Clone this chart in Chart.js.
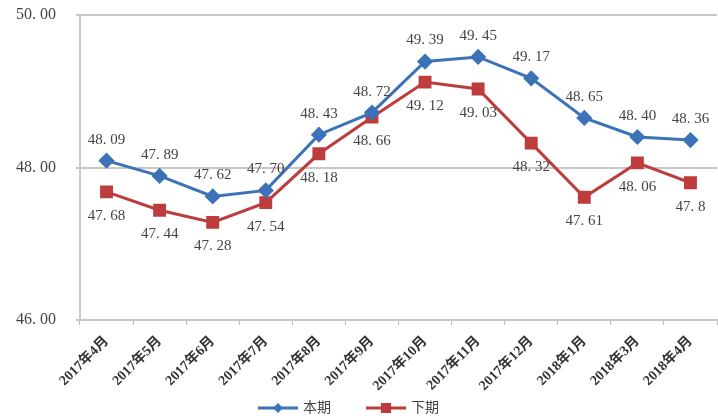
<!DOCTYPE html>
<html>
<head>
<meta charset="utf-8">
<script src="https://cdn.jsdelivr.net/npm/chart.js@4"></script>
<style>
  html, body { margin: 0; padding: 0; background: #fff; overflow: hidden; }
  #wrap { width: 718px; height: 418px; position: relative; overflow: hidden; }
</style>
</head>
<body>
<div id="wrap"><canvas id="myChart" width="727" height="418"></canvas></div>
<script>
// datos del grafico
var meses = ['2017年4月', '2017年5月', '2017年6月', '2017年7月', '2017年8月', '2017年9月',
  '2017年10月', '2017年11月', '2017年12月', '2018年1月', '2018年3月', '2018年4月']
var benqi = [48.09, 47.89, 47.62, 47.70, 48.43, 48.72, 49.39, 49.45, 49.17, 48.65, 48.40, 48.36]
var xiaqi = [47.68, 47.44, 47.28, 47.54, 48.18, 48.66, 49.12, 49.03, 48.32, 47.61, 48.06, 47.8]
var yTicks = [46, 48, 50]

var azul = '#3b72b8'
var rojo = '#bd3d3d'
var serif = "'Liberation Serif', 'Noto Sans CJK SC', serif"

// etiquetas de valores (arriba para azul, abajo para rojo)
var etiquetas = {
    id: 'etiquetas',
    afterDatasetsDraw: function (chart) {
        var ctx = chart.ctx
        ctx.save()
        ctx.font = '15px ' + serif
        ctx.fillStyle = '#444'
        ctx.textAlign = 'center'
        ctx.textBaseline = 'middle'
        chart.data.datasets.forEach(function (ds, i) {
            var meta = chart.getDatasetMeta(i)
            meta.data.forEach(function (pt, j) {
                var v = ds.data[j]
                var txt = (i == 0 ? v.toFixed(2) : String(v)).replace('.', '. ')
                var dy = i == 0 ? -21 : 24
                ctx.fillText(txt, pt.x, pt.y + dy)
            })
        })
        ctx.restore()
    }
}

// leyenda tipo excel: linea con marcador
var leyenda = {
    id: 'leyenda',
    afterDraw: function (chart) {
        var ctx = chart.ctx
        var items = [
            { x: 258, color: azul, label: '本期', shape: 'rombo' },
            { x: 366, color: rojo, label: '下期', shape: 'cuadro' }
        ]
        var y = 408
        ctx.save()
        items.forEach(function (it) {
            ctx.strokeStyle = it.color
            ctx.lineWidth = 3
            ctx.beginPath()
            ctx.moveTo(it.x, y)
            ctx.lineTo(it.x + 40, y)
            ctx.stroke()
            ctx.fillStyle = it.color
            var cx = it.x + 20
            if (it.shape == 'rombo') {
                ctx.beginPath()
                ctx.moveTo(cx, y - 5)
                ctx.lineTo(cx + 5, y)
                ctx.lineTo(cx, y + 5)
                ctx.lineTo(cx - 5, y)
                ctx.closePath()
                ctx.fill()
            } else {
                ctx.fillRect(cx - 5, y - 5, 10, 10)
            }
            ctx.fillStyle = '#444'
            ctx.font = '14px ' + serif
            ctx.textAlign = 'left'
            ctx.textBaseline = 'middle'
            ctx.fillText(it.label, it.x + 45, y)
        })
        ctx.restore()
    }
}

var ctx = document.getElementById('myChart').getContext('2d')
var chart = new Chart(ctx, {
    type: 'line',
    data: {
        labels: meses,
        datasets: [{
            label: '本期',
            data: benqi,
            borderColor: azul,
            backgroundColor: azul,
            borderWidth: 3,
            pointStyle: 'rectRot',
            pointRadius: 6,
            pointHoverRadius: 6,
            tension: 0
        }, {
            label: '下期',
            data: xiaqi,
            borderColor: rojo,
            backgroundColor: rojo,
            borderWidth: 3,
            pointStyle: 'rect',
            pointRadius: 7,
            pointHoverRadius: 7,
            tension: 0
        }]
    },
    options: {
        responsive: false,
        animation: false,
        layout: { padding: { top: 15, right: 0, left: 0, bottom: 0 } },
        plugins: {
            legend: { display: false },
            tooltip: { enabled: false }
        },
        scales: {
            x: {
                offset: true,
                grid: { display: true, drawOnChartArea: false, offset: true, tickLength: 5, color: '#bbb' },
                border: { color: '#c8c8c8', width: 2 },
                ticks: {
                    autoSkip: false,
                    maxRotation: 45,
                    minRotation: 45,
                    color: '#333',
                    padding: 8,
                    font: { family: serif, size: 14, weight: 'bold' }
                },
                afterFit: function (s) { s.height = 98 }
            },
            y: {
                min: 46,
                max: 50,
                afterBuildTicks: function (s) { s.ticks = yTicks.map(function (v) { return { value: v } }) },
                grid: { color: '#c8c8c8', lineWidth: 2, tickLength: 4 },
                border: { color: '#c8c8c8', width: 2 },
                ticks: {
                    color: '#444',
                    padding: 20,
                    font: { family: serif, size: 16 },
                    callback: function (v) { return v.toFixed(2).replace('.', '. ') }
                },
                afterFit: function (s) {
                    s.width = 80
                    s.paddingTop = 0
                    s.paddingBottom = 0
                }
            }
        }
    },
    plugins: [etiquetas, leyenda]
})
</script>
</body>
</html>
